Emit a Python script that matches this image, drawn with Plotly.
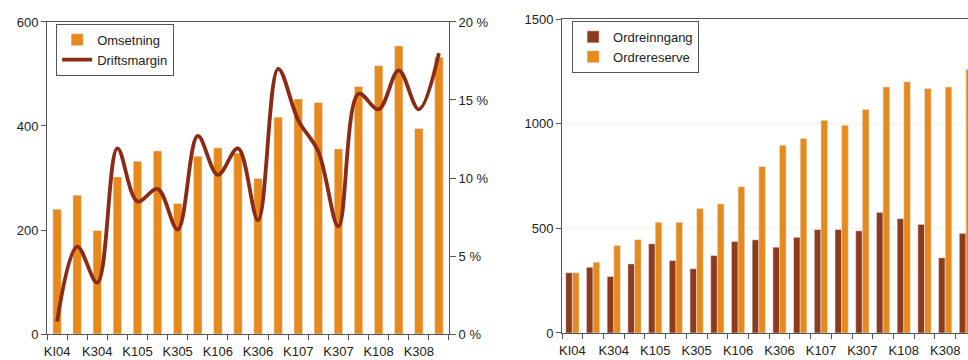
import plotly.graph_objects as go

categories = ["KI04", "K204", "K304", "K404", "K105", "K205", "K305", "K405",
              "K106", "K206", "K306", "K406", "K107", "K207", "K307", "K407",
              "K108", "K208", "K308", "K408"]
tick_labels = [c if i % 2 == 0 else "" for i, c in enumerate(categories)]

omsetning = [240, 267, 199, 302, 332, 352, 251, 342, 358, 348, 299, 417,
             452, 445, 356, 476, 516, 554, 395, 532]
driftsmargin = [0.8, 5.6, 3.3, 11.9, 8.5, 9.3, 6.7, 12.7, 10.2, 11.9, 7.3, 17.0,
                13.7, 11.7, 6.9, 15.4, 14.4, 16.9, 14.4, 18.0]

ordreinngang = [288, 314, 270, 330, 426, 346, 307, 370, 437, 445, 410, 457,
                494, 494, 488, 576, 546, 519, 359, 476]
ordrereserve = [288, 338, 418, 446, 529, 529, 595, 616, 699, 795, 897, 929,
                1016, 992, 1068, 1175, 1200, 1168, 1175, 1259]

ORANGE = "#E8891B"
BROWN = "#8E3A1C"
LINE = "#8B2B16"
AX = "#555555"
TXT = "#222222"
FONT = "Liberation Sans, Arial, sans-serif"

fig = go.Figure()
fig.add_trace(go.Bar(x=categories, y=omsetning, name="Omsetning", marker_color=ORANGE,
                     width=0.42, xaxis="x", yaxis="y", legend="legend", legendgroup="a"))
fig.add_trace(go.Scatter(x=categories, y=driftsmargin, name="Driftsmargin", mode="lines",
                         line=dict(color=LINE, width=3.8, shape="spline", smoothing=1.0),
                         xaxis="x", yaxis="y2", legend="legend", legendgroup="b"))
fig.add_trace(go.Bar(x=categories, y=ordreinngang, name="Ordreinngang", marker_color=BROWN,
                     xaxis="x3", yaxis="y3", legend="legend2", legendgroup="c"))
fig.add_trace(go.Bar(x=categories, y=ordrereserve, name="Ordrereserve", marker_color=ORANGE,
                     xaxis="x3", yaxis="y3", legend="legend2", legendgroup="d"))

xcommon = dict(type="category", tickmode="array", tickvals=categories, ticktext=tick_labels,
               tickson="boundaries", ticks="outside", ticklen=5, tickcolor=AX, tickangle=0,
               ticklabelstandoff=5,
               showline=True, linecolor=AX, linewidth=1, showgrid=False,
               tickfont=dict(size=13, color=TXT, family=FONT), automargin=False, fixedrange=True)

fig.update_layout(
    width=968, height=360,
    margin=dict(l=0, r=0, t=0, b=0),
    paper_bgcolor="white", plot_bgcolor="white",
    font=dict(family=FONT, size=13, color=TXT),
    barmode="group", bargap=0.36, bargroupgap=0,
    showlegend=True,
    xaxis=dict(domain=[0.0486, 0.4638], anchor="y", mirror=True, range=[-0.5, 19.5], **xcommon),
    yaxis=dict(domain=[0.0722, 0.9389], anchor="x", range=[0, 600], tickvals=[0, 200, 400, 600],
               ticks="outside", ticklen=5, tickcolor=AX, showline=True, linecolor=AX,
               showgrid=False, zeroline=False, automargin=False,
               tickfont=dict(size=13, color=TXT, family=FONT)),
    yaxis2=dict(overlaying="y", side="right", anchor="x", range=[0, 20],
                tickvals=[0, 5, 10, 15, 20], ticktext=["0 %", "5 %", "10 %", "15 %", "20 %"],
                ticks="outside", ticklen=6, tickcolor=AX, showline=True, linecolor=AX,
                showgrid=False, zeroline=False, automargin=False,
                tickfont=dict(size=13, color=TXT, family=FONT)),
    xaxis3=dict(domain=[0.5806, 1.0], anchor="y3", mirror=True, range=[-0.5, 19.1], **xcommon),
    yaxis3=dict(domain=[0.075, 0.9472], anchor="x3", range=[0, 1500], tickvals=[0, 500, 1000, 1500],
                ticks="outside", ticklen=5, tickcolor=AX, showline=True, linecolor=AX,
                showgrid=True, gridcolor="rgba(0,0,0,0.05)", zeroline=False, automargin=False,
                tickfont=dict(size=13, color=TXT, family=FONT)),
    legend=dict(x=0.058, y=0.934, xanchor="left", yanchor="top", bgcolor="white",
                bordercolor="#555555", borderwidth=1, font=dict(size=13, color=TXT, family=FONT),
                tracegroupgap=4, traceorder="normal", itemwidth=30),
    legend2=dict(x=0.591, y=0.942, xanchor="left", yanchor="top", bgcolor="white",
                 bordercolor="#555555", borderwidth=1, font=dict(size=13, color=TXT, family=FONT),
                 tracegroupgap=4, traceorder="normal"),
)

fig.write_html("out.html")
